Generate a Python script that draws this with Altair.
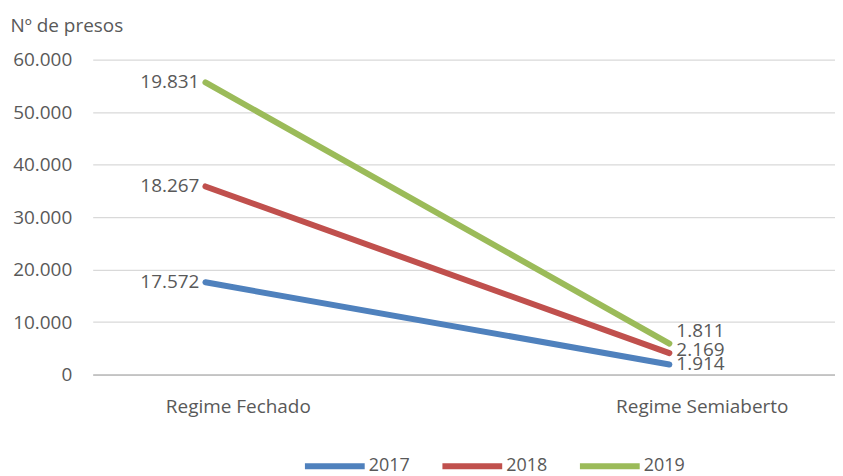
import altair as alt
import pandas as pd

categories = ["Regime Fechado", "Regime Semiaberto"]
years = ["2017", "2018", "2019"]
values_2017 = [17572, 1914]
values_2018 = [18267, 2169]
values_2019 = [19831, 1811]
colors = ["#4F81BD", "#C0504D", "#9BBB59"]

rows = []
for yr, vals in zip(years, [values_2017, values_2018, values_2019]):
    for i, (cat, v) in enumerate(zip(categories, vals)):
        rows.append({"cat": cat, "ano": yr, "valor": v, "idx": i})
df = pd.DataFrame(rows)
df["cum"] = df.groupby("cat")["valor"].cumsum()
df["label"] = df["valor"].map(lambda v: f"{v:,}".replace(",", "."))
cat_df = pd.DataFrame({"cat": categories})

FONT = "Open Sans"
TXT = "#595959"
FS = 19

x_scale = alt.Scale(type="point", domain=categories, padding=0.3, align=0.405)
x_enc = alt.X("cat:N", sort=categories, scale=x_scale,
              axis=alt.Axis(title=None, labels=False, ticks=False,
                            domainColor="#A6A6A6", grid=False))
y_enc = alt.Y("cum:Q", scale=alt.Scale(domain=[0, 60000]),
              axis=alt.Axis(title="Nº de presos", titleAngle=0, titleAlign="left",
                            titleBaseline="middle", titleX=-83, titleY=-34,
                            titleFontSize=FS, titleFontWeight="normal", titleColor=TXT,
                            titleFont=FONT,
                            values=[0, 10000, 20000, 30000, 40000, 50000, 60000],
                            labelExpr="replace(format(datum.value, ','), ',', '.')",
                            labelPadding=21, labelFontSize=FS, labelColor=TXT, labelFont=FONT,
                            domain=False, ticks=False, gridColor="#D9D9D9", gridWidth=1.3))

base = alt.Chart(df)

lines = base.mark_line(strokeWidth=6, strokeCap="round").encode(
    x=x_enc, y=y_enc,
    color=alt.Color("ano:N", scale=alt.Scale(domain=years, range=colors),
                    legend=alt.Legend(title=None, orient="none", direction="horizontal",
                                      legendX=210, legendY=375,
                                      symbolType="stroke", symbolSize=3600,
                                      symbolStrokeWidth=6, labelOffset=1,
                                      columnPadding=20, labelFontSize=18,
                                      labelColor=TXT, labelFont=FONT)),
    order="idx:Q",
)

cat_labels = alt.Chart(cat_df).mark_text(
    align="center", baseline="middle", dx=33, fontSize=FS, color=TXT, font=FONT
).encode(x=alt.X("cat:N", sort=categories, scale=x_scale), y=alt.value(349), text="cat:N")

left_labels = base.transform_filter(alt.datum.idx == 0).mark_text(
    align="right", baseline="middle", dx=-6, fontSize=FS, color=TXT, font=FONT
).encode(x=alt.X("cat:N", sort=categories), y="cum:Q", text="label:N")

right_layers = []
for yr, dy in zip(years, [0, -3, -13]):
    right_layers.append(
        base.transform_filter((alt.datum.idx == 1) & (alt.datum.ano == yr)).mark_text(
            align="left", baseline="middle", dx=7, dy=dy, fontSize=FS, color=TXT, font=FONT
        ).encode(x=alt.X("cat:N", sort=categories), y="cum:Q", text="label:N")
    )

chart = alt.layer(lines, cat_labels, left_labels, *right_layers).properties(
    width=745, height=316,
    padding={"left": 2, "top": 8, "right": 0, "bottom": 0},
).configure_view(stroke=None)

chart.save("out.html", embed_options={"renderer": "svg", "actions": False})
